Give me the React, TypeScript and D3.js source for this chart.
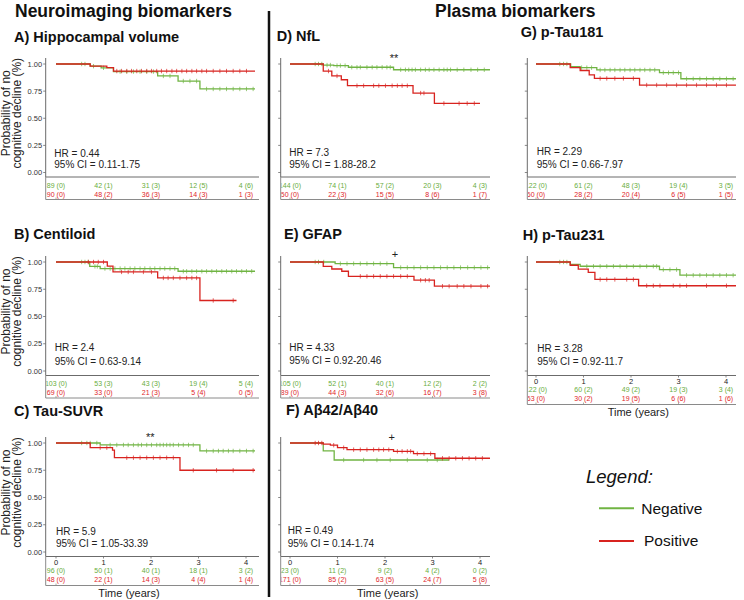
import React from "react";
import * as d3 from "d3";

const FONT = "'Liberation Sans', Arial, Helvetica, sans-serif";
const GREEN = "#70b443";
const RED = "#d8231f";
const GREEN_TXT = "#68ad3c";
const RED_TXT = "#e0262a";

// ---------- data ----------
const timeTicks = [0, 1, 2, 3, 4];
const survTicks = [0, 0.25, 0.5, 0.75, 1];
const survTickLabels = ["0.00", "0.25", "0.50", "0.75", "1.00"];
const headers = ["Neuroimaging biomarkers", "Plasma biomarkers"];
const panelTitles = [
  "A) Hippocampal volume",
  "B) Centiloid",
  "C) Tau-SUVR",
  "D) NfL",
  "E) GFAP",
  "F) Aβ42/Aβ40",
  "G) p-Tau181",
  "H) p-Tau231",
];
const legendLabels = ["Negative", "Positive"];

// A) Hippocampal volume
const aNegTimes = [0.72, 0.95, 1.21, 2.14, 2.57, 3.03];
const aNegSurv = [0.98, 0.965, 0.93, 0.89, 0.843, 0.77];
const aNegEnd = 4.19;
const aNegCens = [0.54, 0.61, 0.79, 1.0, 1.35, 1.49, 1.63, 1.77, 1.91, 2.05, 2.26, 2.4, 2.68, 2.82, 2.96, 3.17, 3.31, 3.45, 3.59, 3.73, 3.87, 4.01, 4.15];
const aPosTimes = [0.72, 1.07, 1.21];
const aPosSurv = [0.98, 0.966, 0.935];
const aPosEnd = 4.19;
const aPosCens = [1.28, 1.38, 1.49, 1.59, 1.7, 1.8, 1.91, 2.01, 2.12, 2.22, 2.33, 2.44, 2.54, 2.65, 2.75, 2.86, 2.96, 3.07, 3.17, 3.31, 3.45, 3.59, 3.73, 3.87, 4.01];
const aNegRisk = ["89 (0)", "42 (1)", "31 (3)", "12 (5)", "4 (6)"];
const aPosRisk = ["90 (0)", "48 (2)", "36 (3)", "14 (3)", "1 (3)"];
const aStats = ["HR = 0.44", "95% CI = 0.11-1.75"];

// B) Centiloid
const bNegTimes = [0.71, 0.93, 2.57];
const bNegSurv = [0.96, 0.94, 0.915];
const bNegEnd = 4.19;
const bNegCens = [0.54, 0.61, 0.68, 0.82, 0.87, 1.03, 1.14, 1.24, 1.35, 1.45, 1.56, 1.66, 1.77, 1.87, 1.98, 2.08, 2.19, 2.29, 2.4, 2.5, 2.68, 2.75, 2.86, 2.96, 3.07, 3.17, 3.28, 3.38, 3.49, 3.59, 3.7, 3.8, 3.91, 4.01, 4.12];
const bPosTimes = [1.08, 1.2, 2.14, 3.03];
const bPosSurv = [0.963, 0.909, 0.854, 0.647];
const bPosEnd = 3.8;
const bPosCens = [0.68, 0.79, 0.89, 1.0, 1.38, 1.52, 1.63, 1.84, 2.01, 2.26, 2.36, 2.47, 2.61, 2.75, 2.86, 2.96, 3.31, 3.73];
const bNegRisk = ["103 (0)", "53 (3)", "43 (3)", "19 (4)", "5 (4)"];
const bPosRisk = ["69 (0)", "33 (0)", "21 (3)", "5 (4)", "0 (5)"];
const bStats = ["HR = 2.4", "95% CI = 0.63-9.14"];

// C) Tau-SUVR
const cNegTimes = [0.93, 3.03];
const cNegSurv = [0.982, 0.927];
const cNegEnd = 4.19;
const cNegCens = [0.54, 0.65, 0.72, 0.86, 1.14, 1.28, 1.42, 1.52, 1.63, 1.73, 1.8, 1.91, 2.01, 2.12, 2.19, 2.26, 2.33, 2.4, 2.47, 2.58, 2.68, 2.79, 2.89, 3.17, 3.31, 3.42, 3.52, 3.63, 3.73, 3.87, 4.01, 4.15];
const cPosTimes = [0.72, 1.19, 1.23, 2.61];
const cPosSurv = [0.957, 0.935, 0.865, 0.75];
const cPosEnd = 4.19;
const cPosCens = [0.93, 1.07, 1.49, 1.63, 1.77, 1.91, 2.05, 2.19, 2.33, 2.47, 2.89, 3.38, 3.73, 4.15];
const cNegRisk = ["96 (0)", "50 (1)", "40 (1)", "18 (1)", "3 (2)"];
const cPosRisk = ["48 (0)", "22 (1)", "14 (3)", "4 (4)", "1 (4)"];
const cStats = ["HR = 5.9", "95% CI = 1.05-33.39"];

// D) NfL
const dNegTimes = [0.7, 0.92, 1.23, 2.18];
const dNegSurv = [0.99, 0.985, 0.97, 0.947];
const dNegEnd = 4.21;
const dNegCens = [0.53, 0.6, 0.67, 0.78, 0.85, 0.99, 1.06, 1.16, 1.3, 1.41, 1.48, 1.62, 1.73, 1.83, 1.94, 2.04, 2.11, 2.33, 2.43, 2.5, 2.57, 2.64, 2.75, 2.85, 2.93, 3.03, 3.14, 3.24, 3.31, 3.38, 3.52, 3.66, 3.81, 3.95, 4.09];
const dPosTimes = [0.7, 0.88, 1.08, 1.21, 2.59, 3.04];
const dPosSurv = [0.935, 0.89, 0.855, 0.8, 0.732, 0.637];
const dPosEnd = 4.0;
const dPosCens = [0.81, 0.99, 1.41, 1.55, 1.76, 1.87, 2.01, 2.15, 2.26, 2.36, 2.47, 2.75, 2.82, 3.24, 3.56, 3.73, 3.88];
const dNegRisk = ["144 (0)", "74 (1)", "57 (2)", "20 (3)", "4 (3)"];
const dPosRisk = ["50 (0)", "22 (3)", "15 (5)", "8 (6)", "1 (7)"];
const dStats = ["HR = 7.3", "95% CI = 1.88-28.2"];

// E) GFAP
const eNegTimes = [0.95, 2.18];
const eNegSurv = [0.985, 0.949];
const eNegEnd = 4.21;
const eNegCens = [0.53, 0.6, 0.71, 1.06, 1.2, 1.34, 1.48, 1.62, 1.76, 1.9, 2.04, 2.33, 2.47, 2.61, 2.75, 2.89, 3.03, 3.17, 3.31, 3.45, 3.59, 3.74, 3.88, 4.02, 4.16];
const ePosTimes = [0.7, 0.88, 1.09, 1.23, 2.61, 3.04];
const ePosSurv = [0.96, 0.936, 0.915, 0.869, 0.833, 0.778];
const ePosEnd = 4.21;
const ePosCens = [1.48, 1.62, 1.76, 1.9, 2.04, 2.18, 2.33, 2.47, 2.75, 2.85, 2.93, 3.21, 3.35, 3.52, 3.66, 3.81, 4.02, 4.16];
const eNegRisk = ["105 (0)", "52 (1)", "40 (1)", "12 (2)", "2 (2)"];
const ePosRisk = ["89 (0)", "44 (3)", "32 (6)", "16 (7)", "3 (8)"];
const eStats = ["HR = 4.33", "95% CI = 0.92-20.46"];

// F) Abeta42/40
const fNegTimes = [0.7, 0.93];
const fNegSurv = [0.927, 0.844];
const fNegEnd = 3.35;
const fNegCens = [1.13, 1.55, 1.83, 2.11, 2.47, 2.89, 3.1];
const fPosTimes = [0.7, 0.85, 1.0, 1.2, 2.18, 2.6, 3.05];
const fPosSurv = [0.99, 0.98, 0.957, 0.939, 0.924, 0.902, 0.86];
const fPosEnd = 4.21;
const fPosCens = [0.53, 0.6, 0.67, 0.92, 1.13, 1.34, 1.48, 1.62, 1.76, 1.87, 1.97, 2.08, 2.26, 2.36, 2.47, 2.54, 2.68, 2.82, 2.96, 3.21, 3.35, 3.49, 3.63, 3.77, 3.91, 4.05];
const fNegRisk = ["23 (0)", "11 (2)", "9 (2)", "4 (2)", "0 (2)"];
const fPosRisk = ["171 (0)", "85 (2)", "63 (5)", "24 (7)", "5 (8)"];
const fStats = ["HR = 0.49", "95% CI = 0.14-1.74"];

// G) p-Tau181
const gNegTimes = [0.73, 0.93, 1.28, 2.6, 3.05];
const gNegSurv = [0.975, 0.966, 0.945, 0.92, 0.864];
const gNegEnd = 4.21;
const gNegCens = [0.5, 0.58, 0.65, 0.96, 1.07, 1.17, 1.35, 1.45, 1.56, 1.66, 1.77, 1.87, 1.98, 2.08, 2.19, 2.29, 2.4, 2.5, 2.68, 2.79, 2.89, 3.0, 3.17, 3.31, 3.45, 3.59, 3.73, 3.87, 4.01, 4.15];
const gPosTimes = [0.72, 0.93, 1.12, 1.23, 2.18];
const gPosSurv = [0.966, 0.94, 0.9, 0.867, 0.806];
const gPosEnd = 4.21;
const gPosCens = [1.35, 1.49, 1.66, 1.84, 2.05, 2.33, 2.54, 2.75, 2.96, 3.17, 3.38, 3.59, 3.8, 4.01];
const gNegRisk = ["122 (0)", "61 (2)", "48 (3)", "19 (4)", "3 (5)"];
const gPosRisk = ["60 (0)", "28 (2)", "20 (4)", "6 (5)", "1 (5)"];
const gStats = ["HR = 2.29", "95% CI = 0.66-7.97"];

// H) p-Tau231
const hNegTimes = [0.72, 0.93, 2.6, 3.03];
const hNegSurv = [0.979, 0.961, 0.93, 0.879];
const hNegEnd = 4.21;
const hNegCens = [0.5, 0.58, 0.65, 1.07, 1.21, 1.35, 1.49, 1.63, 1.77, 1.91, 2.05, 2.19, 2.33, 2.47, 2.54, 2.68, 2.82, 2.96, 3.17, 3.31, 3.45, 3.59, 3.73, 3.87, 4.01, 4.15];
const hPosTimes = [0.72, 0.89, 1.1, 1.24, 2.16];
const hPosSurv = [0.97, 0.934, 0.904, 0.84, 0.782];
const hPosEnd = 4.21;
const hPosCens = [1.35, 1.49, 1.66, 1.91, 2.05, 2.33, 2.47, 2.61, 2.89, 3.03, 3.17, 3.59, 4.01];
const hNegRisk = ["122 (0)", "60 (2)", "49 (2)", "19 (3)", "3 (4)"];
const hPosRisk = ["63 (0)", "30 (2)", "19 (5)", "6 (6)", "1 (6)"];
const hStats = ["HR = 3.28", "95% CI = 0.92-11.7"];

// ---------- layout ----------
const cols = [
  { axisX: 45.7, x0: 56, right: 259 },
  { axisX: 280.7, x0: 290, right: 490 },
  { axisX: 527.3, x0: 536, right: 736 },
];
const rows = [
  { top: 64, bot: 172.5 },
  { top: 262, bot: 371 },
  { top: 443, bot: 552 },
];

type Curve = { times: number[]; surv: number[]; end: number; cens: number[]; risk: string[] };
const mk = (times: number[], surv: number[], end: number, cens: number[], risk: string[]): Curve => ({ times, surv, end, cens, risk });

const panels = [
  { col: 0, row: 0, tx: 14, ty: 41.7, neg: mk(aNegTimes, aNegSurv, aNegEnd, aNegCens, aNegRisk), pos: mk(aPosTimes, aPosSurv, aPosEnd, aPosCens, aPosRisk), stats: aStats, sx: 54.3, sy: [156.5, 168], yLab: true, xTicks: false },
  { col: 0, row: 1, tx: 14, ty: 239.3, neg: mk(bNegTimes, bNegSurv, bNegEnd, bNegCens, bNegRisk), pos: mk(bPosTimes, bPosSurv, bPosEnd, bPosCens, bPosRisk), stats: bStats, sx: 54.7, sy: [350.5, 365], yLab: true, xTicks: false },
  { col: 0, row: 2, tx: 14, ty: 416, neg: mk(cNegTimes, cNegSurv, cNegEnd, cNegCens, cNegRisk), pos: mk(cPosTimes, cPosSurv, cPosEnd, cPosCens, cPosRisk), stats: cStats, sx: 56, sy: [534.5, 546.7], yLab: true, xTicks: true, xlc: 129, sig: "**", sigX: 150.3, sigY: 436.7 },
  { col: 1, row: 0, tx: 276.7, ty: 41, neg: mk(dNegTimes, dNegSurv, dNegEnd, dNegCens, dNegRisk), pos: mk(dPosTimes, dPosSurv, dPosEnd, dPosCens, dPosRisk), stats: dStats, sx: 289.3, sy: [156, 168.3], yLab: false, xTicks: false, sig: "**", sigX: 394, sigY: 58 },
  { col: 1, row: 1, tx: 284, ty: 239.3, neg: mk(eNegTimes, eNegSurv, eNegEnd, eNegCens, eNegRisk), pos: mk(ePosTimes, ePosSurv, ePosEnd, ePosCens, ePosRisk), stats: eStats, sx: 289.3, sy: [350.7, 364.3], yLab: false, xTicks: false, sig: "+", sigX: 395, sigY: 254 },
  { col: 1, row: 2, tx: 286, ty: 415, neg: mk(fNegTimes, fNegSurv, fNegEnd, fNegCens, fNegRisk), pos: mk(fPosTimes, fPosSurv, fPosEnd, fPosCens, fPosRisk), stats: fStats, sx: 287.7, sy: [534, 546.7], yLab: false, xTicks: true, xlc: 387.7, sig: "+", sigX: 391.7, sigY: 437.3 },
  { col: 2, row: 0, tx: 520.7, ty: 37.3, neg: mk(gNegTimes, gNegSurv, gNegEnd, gNegCens, gNegRisk), pos: mk(gPosTimes, gPosSurv, gPosEnd, gPosCens, gPosRisk), stats: gStats, sx: 536.7, sy: [155, 168.3], yLab: false, xTicks: false },
  { col: 2, row: 1, tx: 522.7, ty: 240, neg: mk(hNegTimes, hNegSurv, hNegEnd, hNegCens, hNegRisk), pos: mk(hPosTimes, hPosSurv, hPosEnd, hPosCens, hPosRisk), stats: hStats, sx: 537.3, sy: [351.7, 365], yLab: false, xTicks: true, xlc: 638.3 },
];

function survAt(c: Curve, t: number) {
  let s = 1;
  c.times.forEach((tt, i) => {
    if (tt <= t) s = c.surv[i];
  });
  return s;
}

function KMCurve({ c, x, y, color }: { c: Curve; x: any; y: any; color: string }) {
  const pts: [number, number][] = [[0, 1], ...c.times.map((t, i) => [t, c.surv[i]] as [number, number])];
  pts.push([c.end, c.surv.length ? c.surv[c.surv.length - 1] : 1]);
  const line = d3
    .line<[number, number]>()
    .x((d) => x(d[0]))
    .y((d) => y(d[1]))
    .curve(d3.curveStepAfter);
  return (
    <g>
      <path d={line(pts) || ""} fill="none" stroke={color} strokeWidth={1.3} />
      {c.cens.map((t, i) => {
        const yy = y(survAt(c, t));
        return <line key={i} x1={x(t)} x2={x(t)} y1={yy - 2.2} y2={yy + 2.2} stroke={color} strokeWidth={0.7} />;
      })}
    </g>
  );
}

function Panel({ p, idx }: { p: any; idx: number }) {
  const c = cols[p.col];
  const r = rows[p.row];
  const x = d3.scaleLinear().domain([0, 4]).range([c.x0, c.x0 + 190]);
  const y = d3.scaleLinear().domain([0, 1]).range([r.bot, r.top]);
  const axisTop = r.top - 6;
  const axisBot = r.bot + 4.5;
  const tickY = axisBot + 5.5;
  const gY = p.xTicks ? axisBot + 14.5 : axisBot + 8.5;
  const rY = p.xTicks ? axisBot + 23.5 : axisBot + 17.5;
  const tblBot = p.xTicks ? axisBot + 29 : axisBot + 22.5;
  const clipId = `clip-${idx}`;
  const midY = (r.top + r.bot) / 2 - 5;
  return (
    <g>
      <defs>
        <clipPath id={clipId}>
          <rect x={c.axisX + 0.6} y={axisBot} width={c.right - c.axisX + 4} height={40} />
        </clipPath>
      </defs>
      <text x={p.tx} y={p.ty} fontSize={14.5} fontWeight="bold" fill="#111">
        {panelTitles[idx]}
      </text>
      {/* axes */}
      <line x1={c.axisX} x2={c.axisX} y1={axisTop} y2={axisBot} stroke="#6b6b6b" strokeWidth={1} />
      <line x1={c.axisX} x2={c.right} y1={axisBot} y2={axisBot} stroke="#6b6b6b" strokeWidth={1} />
      {survTicks.map((s, i) => (
        <g key={i}>
          <line x1={c.axisX - 2.5} x2={c.axisX} y1={y(s)} y2={y(s)} stroke="#6b6b6b" strokeWidth={0.8} />
          {p.yLab && (
            <text x={c.axisX - 3.5} y={y(s)} dy="0.35em" textAnchor="end" fontSize={7.5} fill="#333">
              {survTickLabels[i]}
            </text>
          )}
        </g>
      ))}
      {p.yLab && (
        <text transform={`translate(10,${midY}) rotate(-90)`} textAnchor="middle" fontSize={12} fill="#222">
          <tspan x={0} dy={0}>Probability of no</tspan>
          <tspan x={0} dy={11}>cognitive decline (%)</tspan>
        </text>
      )}
      {p.xTicks &&
        timeTicks.map((t) => (
          <g key={t}>
            <line x1={x(t)} x2={x(t)} y1={axisBot} y2={axisBot + 2} stroke="#6b6b6b" strokeWidth={0.8} />
            <text x={x(t)} y={tickY} dy="0.35em" textAnchor="middle" fontSize={7.5} fill="#222">
              {t}
            </text>
          </g>
        ))}
      {/* curves */}
      <KMCurve c={p.neg} x={x} y={y} color={GREEN} />
      <KMCurve c={p.pos} x={x} y={y} color={RED} />
      {/* stats */}
      <text x={p.sx} y={p.sy[0]} fontSize={10} fill="#222">{p.stats[0]}</text>
      <text x={p.sx} y={p.sy[1]} fontSize={10} fill="#222">{p.stats[1]}</text>
      {p.sig && (
        <text x={p.sigX} y={p.sigY} dy="0.35em" textAnchor="middle" fontSize={11} fill="#222">
          {p.sig}
        </text>
      )}
      {/* risk table */}
      <g clipPath={`url(#${clipId})`}>
        {timeTicks.map((t, i) => (
          <g key={t}>
            <text x={x(t)} y={gY} dy="0.35em" textAnchor="middle" fontSize={7} fill={GREEN_TXT}>
              {p.neg.risk[i]}
            </text>
            <text x={x(t)} y={rY} dy="0.35em" textAnchor="middle" fontSize={7} fill={RED_TXT}>
              {p.pos.risk[i]}
            </text>
          </g>
        ))}
      </g>
      <line x1={c.axisX} x2={c.axisX} y1={axisBot} y2={tblBot} stroke="#8a8a8a" strokeWidth={1} />
      <line x1={c.axisX} x2={c.right} y1={tblBot} y2={tblBot} stroke="#8a8a8a" strokeWidth={1} />
      {timeTicks.map((t) => (
        <line key={t} x1={x(t)} x2={x(t)} y1={tblBot - 2} y2={tblBot} stroke="#8a8a8a" strokeWidth={0.7} />
      ))}
      {p.xTicks && (
        <text x={p.xlc} y={tblBot + 11.5} textAnchor="middle" fontSize={11} fill="#222">
          Time (years)
        </text>
      )}
    </g>
  );
}

export default function App() {
  return (
    <svg width={744} height={600} style={{ position: "absolute", left: 0, top: 0, background: "#fff" }} fontFamily={FONT}>
      <rect width={744} height={600} fill="#fff" />
      <text x={15} y={16.7} fontSize={17.5} fontWeight="bold" fill="#111">{headers[0]}</text>
      <text x={435} y={16.7} fontSize={17.5} fontWeight="bold" fill="#111">{headers[1]}</text>
      <line x1={269} x2={269} y1={11} y2={597} stroke="#111" strokeWidth={2.5} />
      {panels.map((p, i) => (
        <Panel key={i} p={p} idx={i} />
      ))}
      {/* legend */}
      <text x={586} y={483.3} fontSize={18.5} fontStyle="italic" fill="#111">Legend:</text>
      <line x1={599} x2={634} y1={508.3} y2={508.3} stroke={GREEN} strokeWidth={2} />
      <text x={641.3} y={513.5} fontSize={15.5} fill="#111">{legendLabels[0]}</text>
      <line x1={599} x2={634} y1={541} y2={541} stroke={RED} strokeWidth={2} />
      <text x={644} y={546.3} fontSize={15.5} fill="#111">{legendLabels[1]}</text>
    </svg>
  );
}
